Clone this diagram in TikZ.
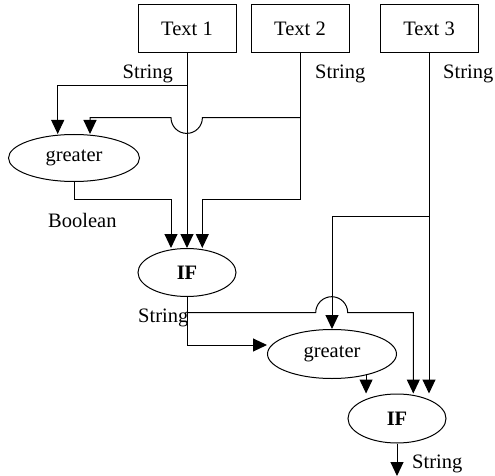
\documentclass[tikz,border=0pt]{standalone}
\usepackage{fontspec}
\setmainfont{Liberation Serif}
\usetikzlibrary{arrows.meta,calc,shapes.geometric}
\begin{document}
\begin{tikzpicture}[x=1pt,y=-1pt,
  txt/.style={font=\fontsize{20.5}{24}\selectfont},
  every node/.style={txt, inner sep=0pt},
  box/.style={draw, line width=1pt, minimum width=98pt, minimum height=48pt},
  op/.style={draw, ellipse, line width=1pt},
  wire/.style={line width=1pt},
  flow/.style={wire, -{Triangle[length=14pt,width=13pt]}},
  lbl/.style={anchor=base west}]
\useasboundingbox (0,0) rectangle (495,476);

% sources
\node[box] (t1) at (187,28.5) {Text 1};
\node[box] (t2) at (300,28.5) {Text 2};
\node[box] (t3) at (429,28.5) {Text 3};

% operators
\node[op, minimum width=131pt, minimum height=47pt] (g1) at (74,158) {greater};
\node[op, minimum width=98pt, minimum height=48pt, font=\fontsize{20.5}{24}\selectfont\bfseries] (if1) at (187,272.5) {IF};
\node[op, minimum width=129pt, minimum height=49pt] (g2) at (332,354) {greater};
\node[op, minimum width=98pt, minimum height=49pt, font=\fontsize{20.5}{24}\selectfont\bfseries] (if2) at (397,418.5) {IF};

% corner points of the wiring
\coordinate (j1) at (187,86);
\coordinate (j2) at (300,117.7);
\coordinate (k1) at (171,199);
\coordinate (k2) at (202.3,199);
\coordinate (j4) at (429,216);
\coordinate (j5) at (187,312.7);
\coordinate (k5) at (413.3,312.7);
\coordinate (out) at (397,476);

% Text 1
\draw[flow] (t1.south) -- (t1.south |- if1.north);
\draw[flow] (j1) -| ($(g1.north)+(-16.3,0)$);

% Text 2
\draw[flow] (t2.south) |- (k2) -- (k2 |- if1.north);
\draw[flow] (j2) -- (202.4,117.7) arc[start angle=0, end angle=180, radius=15.7]
  -- (90,117.7) -- ($(g1.north)+(16,0)$);

% greater -> IF
\draw[flow] (g1.south) |- (k1) -- (k1 |- if1.north);

% Text 3
\draw[flow] (t3.south) -- (t3.south |- if2.north);
\draw[flow] (j4) -| (g2.north);

% IF -> greater / IF
\draw[flow] (if1.south) |- ($(g2.west)+(0,-9)$);
\draw[flow] (j5) -- (315.7,312.7) arc[start angle=180, end angle=360, radius=16]
  -- (k5) -- (k5 |- if2.north);
\draw[flow] (g2.-32.5) -- (g2.-32.5 |- if2.north);
\draw[flow] (if2.south) -- (out);

% type labels
\node[anchor=base east] (s1) at (173,79) {String};
\node[lbl] (s2) at (315,79) {String};
\node[lbl] (s3) at (443,79) {String};
\node[lbl] (bl) at (48,227) {Boolean};
\node[lbl] (s4) at (138,322.5) {String};
\node[lbl] (s5) at (412,468) {String};
\end{tikzpicture}
\end{document}
